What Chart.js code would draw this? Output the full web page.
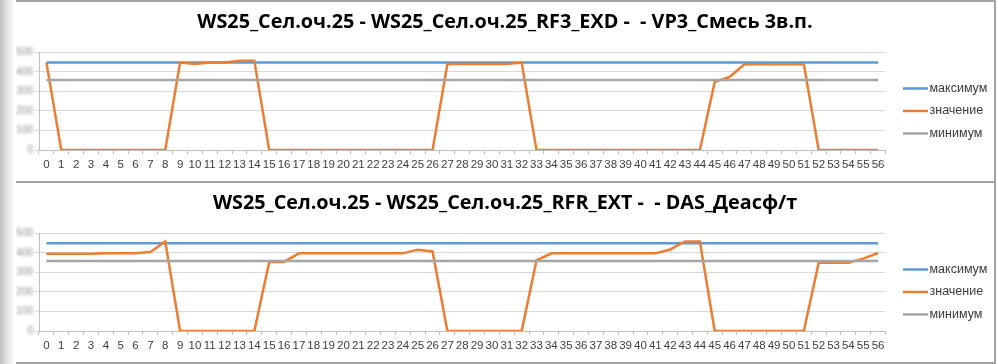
<!DOCTYPE html>
<html>
<head>
<meta charset="utf-8">
<script src="https://cdn.jsdelivr.net/npm/chart.js@4.4.1/dist/chart.umd.min.js"></script>
<style>
  html, body { margin: 0; padding: 0; }
  body {
    width: 998px; height: 364px; position: relative; overflow: hidden;
    background: linear-gradient(to right, #bdbdbd 0px, #e6e6e6 8px, #ffffff 16px);
  }
  .panel {
    position: absolute; left: 16px; width: 980px; height: 181px;
    box-sizing: border-box; background: #fff;
    border-top: 2px solid #a3a3a3; border-right: 2px solid #a3a3a3;
  }
  #p1 { top: 0; }
  #p2 { top: 181px; height: 183px; border-bottom: 2px solid #a3a3a3; }
  .panel canvas { display: block; }
</style>
</head>
<body>
<div class="panel" id="p1"><canvas id="chart1"></canvas></div>
<div class="panel" id="p2"><canvas id="chart2"></canvas></div>

<script>
// ===== DATA =====
const labels = ['0','1','2','3','4','5','6','7','8','9','10','11','12','13','14','15','16','17','18','19',
  '20','21','22','23','24','25','26','27','28','29','30','31','32','33','34','35','36','37','38','39',
  '40','41','42','43','44','45','46','47','48','49','50','51','52','53','54','55','56'];

const yTicks = [0, 100, 200, 300, 400, 500];

const title1 = 'WS25_Сел.оч.25 - WS25_Сел.оч.25_RF3_EXD -  - VP3_Смесь 3в.п.';
const title2 = 'WS25_Сел.оч.25 - WS25_Сел.оч.25_RFR_EXT -  - DAS_Деасф/т';

const seriesNames = ['максимум', 'значение', 'минимум'];

// chart 1
const max1 = [448,448,448,448,448,448,448,448,448,448,448,448,448,448,448,448,448,448,448,448,
  448,448,448,448,448,448,448,448,448,448,448,448,448,448,448,448,448,448,448,448,
  448,448,448,448,448,448,448,448,448,448,448,448,448,448,448,448,448];
const value1 = [448,0,0,0,0,0,0,0,0,448,441,448,448,458,458,0,0,0,0,0,
  0,0,0,0,0,0,0,441,441,441,441,441,448,0,0,0,0,0,0,0,
  0,0,0,0,0,349,374,439,439,439,439,439,0,0,0,0,0];
const min1 = [359,359,359,359,359,359,359,359,359,359,359,359,359,359,359,359,359,359,359,359,
  359,359,359,359,359,359,359,359,359,359,359,359,359,359,359,359,359,359,359,359,
  359,359,359,359,359,359,359,359,359,359,359,359,359,359,359,359,359];

// chart 2
const max2 = [450,450,450,450,450,450,450,450,450,450,450,450,450,450,450,450,450,450,450,450,
  450,450,450,450,450,450,450,450,450,450,450,450,450,450,450,450,450,450,450,450,
  450,450,450,450,450,450,450,450,450,450,450,450,450,450,450,450,450];
const value2 = [396,396,396,396,399,399,399,405,459,0,0,0,0,0,0,354,354,398,398,398,
  398,398,398,398,398,417,408,0,0,0,0,0,0,362,398,398,398,398,398,398,
  398,398,418,459,459,0,0,0,0,0,0,0,350,350,350,371,400];
const min2 = [359,359,359,359,359,359,359,359,359,359,359,359,359,359,359,359,359,359,359,359,
  359,359,359,359,359,359,359,359,359,359,359,359,359,359,359,359,359,359,359,359,
  359,359,359,359,359,359,359,359,359,359,359,359,359,359,359,359,359];

const colors = ['#5B9BD5', '#ED7D31', '#A5A5A5'];


// ===== PLUGINS =====
// legend at the right, line sample + name
const sideLegend = {
  id: 'sideLegend',
  afterDraw(chart) {
    const ctx = chart.ctx;
    const area = chart.chartArea;
    const rows = [36, 58.5, 81];
    ctx.save();
    ctx.font = '12.5px "Liberation Sans", Arial, sans-serif';
    ctx.textBaseline = 'middle';
    seriesNames.forEach((name, i) => {
      const y = area.top + rows[i];
      ctx.strokeStyle = colors[i];
      ctx.lineWidth = 2.5;
      ctx.beginPath();
      ctx.moveTo(area.right + 17.5, y);
      ctx.lineTo(area.right + 42.5, y);
      ctx.stroke();
      ctx.fillStyle = '#3a3a3a';
      ctx.fillText(name, area.right + 44, y);
    });
    ctx.restore();
  }
};

// the y labels are blurred in the original
const blurY = {
  id: 'blurY',
  afterUpdate(chart) {
    const s = chart.scales.y;
    if (s._blurred) return;
    const orig = s.drawLabels.bind(s);
    s.drawLabels = (area) => {
      chart.ctx.save();
      chart.ctx.filter = 'blur(1.6px)';
      orig(area);
      chart.ctx.restore();
    };
    s._blurred = true;
  }
};


// ===== BUILD CHART =====
function makeChart(id, title, maxData, valueData, minData) {
  const canvas = document.getElementById(id);
  canvas.width = 978;
  canvas.height = 179;
  canvas.style.width = '978px';
  canvas.style.height = '179px';

  return new Chart(canvas.getContext('2d'), {
    type: 'line',
    data: {
      labels: labels,
      datasets: [
        { label: seriesNames[0], data: maxData, borderColor: colors[0], order: 2 },
        { label: seriesNames[1], data: valueData, borderColor: colors[1], order: 1 },
        { label: seriesNames[2], data: minData, borderColor: colors[2], order: 0 }
      ]
    },
    options: {
      responsive: false,
      animation: false,
      devicePixelRatio: 1,
      elements: {
        point: { radius: 0 },
        line: { borderWidth: 2.5, tension: 0, fill: false }
      },
      layout: { padding: 0 },
      plugins: {
        legend: { display: false },
        tooltip: { enabled: false },
        title: {
          display: true,
          text: title,
          color: '#000',
          font: { family: '"Open Sans", "Liberation Sans", sans-serif', size: 19.8, weight: 'bold' },
          padding: { top: 8.5, bottom: 18.2 }
        }
      },
      scales: {
        x: {
          offset: true,
          grid: { display: true, drawOnChartArea: false, drawTicks: true, tickLength: 4, offset: true, color: '#bfbfbf' },
          border: { color: '#bfbfbf', width: 1 },
          ticks: {
            autoSkip: false, maxRotation: 0, minRotation: 0, padding: 4,
            color: '#404040',
            font: { family: '"Liberation Sans Narrow", "Liberation Sans", sans-serif', size: 11.5 }
          },
          afterFit(scale) { scale.height = 31; }
        },
        y: {
          min: yTicks[0],
          max: yTicks[yTicks.length - 1],
          afterBuildTicks(scale) { scale.ticks = yTicks.map(v => ({ value: v })); },
          grid: { color: '#d9d9d9', tickLength: 4, drawTicks: true },
          border: { color: '#bfbfbf', width: 1 },
          ticks: {
            padding: 2,
            color: '#8c8c8c',
            font: { family: '"Liberation Sans", sans-serif', size: 10 }
          },
          afterFit(scale) { scale.width = 23; }
        },
        // empty box on the right that leaves room for the legend
        legendSpace: {
          position: 'right',
          grid: { display: false },
          border: { display: false },
          ticks: { display: false },
          afterFit(scale) { scale.width = 108.5; }
        }
      }
    },
    plugins: [sideLegend, blurY]
  });
}

makeChart('chart1', title1, max1, value1, min1);
makeChart('chart2', title2, max2, value2, min2);
</script>
</body>
</html>
